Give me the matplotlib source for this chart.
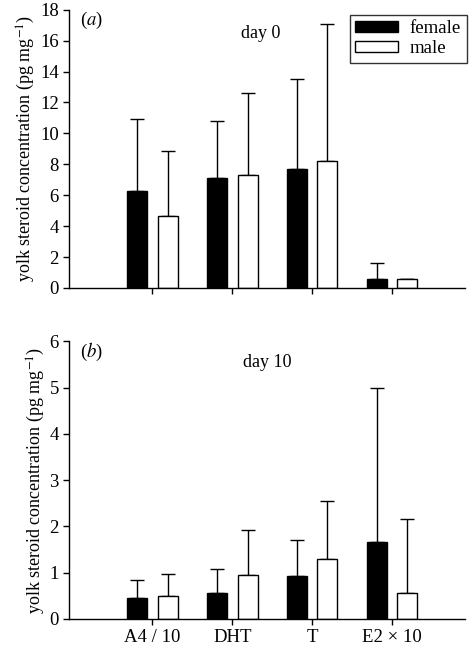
# yolk steroid concentrations, day 0 and day 10, female vs male

import numpy as np
import matplotlib.pyplot as plt

plt.rcParams['font.family'] = ['Liberation Serif', 'DejaVu Serif']
plt.rcParams['mathtext.fontset'] = 'stix'

hormones = ["A4 / 10", "DHT", "T", "E2 \u00d7 10"]

# day 0
fem0 = [6.25, 7.1, 7.7, 0.6]
fem0_err = [4.65, 3.7, 5.8, 1.0]
male0 = [4.65, 7.3, 8.2, 0.55]
male0_err = [4.2, 5.3, 8.9, 0.0]

# day 10
fem10 = [0.45, 0.55, 0.92, 1.65]
fem10_err = [0.38, 0.52, 0.78, 3.35]
male10 = [0.5, 0.95, 1.3, 0.55]
male10_err = [0.47, 0.97, 1.25, 1.61]

fig = plt.figure(figsize=(4.74, 6.5), dpi=100)
ax1 = fig.add_axes([0.146, 0.557, 0.835, 0.428])
ax2 = fig.add_axes([0.146, 0.048, 0.835, 0.427])

x = np.arange(len(hormones))
w = 0.25
off = 0.19
ylab = "yolk steroid concentration (pg mg$^{-1}$)"

def panel(ax, f, fe, m, me, ymax, step, label, day, dayx, dayy):
    ax.bar(x - off, f, w, color='black', edgecolor='black', lw=1, label='female', zorder=2)
    ax.bar(x + off, m, w, color='white', edgecolor='black', lw=1, label='male', zorder=2)
    ax.errorbar(x - off, f, yerr=[np.zeros(len(f)), fe], fmt='none', ecolor='black',
                elinewidth=1, capsize=5, capthick=1, zorder=1)
    ax.errorbar(x + off, m, yerr=[np.zeros(len(m)), me], fmt='none', ecolor='black',
                elinewidth=1, capsize=5, capthick=1, zorder=1)
    ax.set_xlim(-1.04, 3.91)
    ax.set_ylim(0, ymax)
    ax.set_yticks(np.arange(0, ymax + 0.01, step))
    ax.set_xticks(x)
    for s in ['top', 'right']:
        ax.spines[s].set_visible(False)
    for s in ['left', 'bottom']:
        ax.spines[s].set_linewidth(1)
    ax.tick_params(direction='out', length=4, width=1, labelsize=13.5)
    ax.set_ylabel(ylab, fontsize=13, labelpad=2)
    ax.text(0.028, 1.0, label, transform=ax.transAxes, fontsize=13.5, va='top')
    ax.text(dayx, dayy, day, transform=ax.transAxes, fontsize=13, ha='center', va='top')

panel(ax1, fem0, fem0_err, male0, male0_err, 18, 2, "($a$)", "day 0", 0.485, 0.945)
ax1.set_xticklabels([])
leg = ax1.legend(loc='upper right', bbox_to_anchor=(1.004, 0.982), borderaxespad=0,
                 fontsize=13.5, frameon=True, fancybox=False, edgecolor='black',
                 handlelength=2.3, handleheight=0.55, borderpad=0.3, labelspacing=0.15,
                 handletextpad=0.6)
leg.get_frame().set_linewidth(1)

panel(ax2, fem10, fem10_err, male10, male10_err, 6, 1, "($b$)", "day 10", 0.5, 0.955)
ax2.set_xticklabels(hormones, fontsize=13.5)

fig.savefig("out.png", dpi=100)
